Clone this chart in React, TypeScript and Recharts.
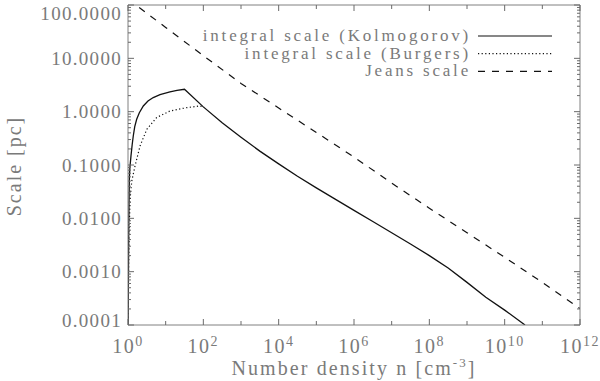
import { LineChart, Line, XAxis, YAxis } from "recharts";

// Kolmogorov integral scale (solid)
const kolmN = [
  1.009, 1.028, 1.052, 1.084, 1.122, 1.2, 1.29, 1.38, 1.51, 1.7, 2.0, 2.55, 3.39, 4.68, 7.08, 13, 20, 31.6,
  100, 316, 1000, 3160, 1e4, 3.16e4, 1e5, 3.16e5, 1e6, 3.16e6, 1e7, 3.16e7, 1e8, 3.16e8, 1e9, 3.16e9, 1e10, 3.47e10,
];
const kolmL = [
  0.0001, 0.001, 0.01, 0.054, 0.089, 0.148, 0.24, 0.35, 0.525, 0.72, 0.955, 1.28, 1.58, 1.84, 2.09, 2.34, 2.51, 2.63,
  1.23, 0.617, 0.331, 0.182, 0.105, 0.0617, 0.0372, 0.0229, 0.0141, 0.0087, 0.00537, 0.00331, 0.002, 0.00117, 0.00063,
  0.00033, 0.00019, 0.0001,
];

// Burgers integral scale (dotted), joins the solid curve near n = 100
const burgN = [1.007, 1.035, 1.072, 1.148, 1.259, 1.535, 2.09, 3.16, 5.75, 13.0, 36.3, 81.3, 104.7];
const burgL = [0.0001, 0.001, 0.0063, 0.025, 0.05, 0.096, 0.228, 0.468, 0.776, 1.03, 1.19, 1.28, 1.2];

// Jeans scale (dashed)
const jeansN = [1, 10, 100, 1e3, 1e4, 1e5, 1e6, 1e7, 1e8, 1e9, 1e10, 1e11, 1e12];
const jeansL = [129, 38, 11.2, 3.39, 1.17, 0.407, 0.141, 0.0457, 0.0155, 0.00537, 0.00186, 0.00063, 0.000204];

const xTicks = [1, 10, 100, 1e3, 1e4, 1e5, 1e6, 1e7, 1e8, 1e9, 1e10, 1e11, 1e12];
const yDecades = [0.0001, 0.001, 0.01, 0.1, 1, 10, 100];
const yMinorSteps = [2, 3, 4, 5, 6, 7, 8, 9];

const legendLabels = ["integral scale (Kolmogorov)", "integral scale (Burgers)", "Jeans scale"];
const legendDash = ["", "1.2 2.4", "7 7"];

const toRows = (ns: number[], ls: number[]) => ns.map((n, i) => ({ n, l: ls[i] }));
const kolmData = toRows(kolmN, kolmL);
const burgData = toRows(burgN, burgL);
const jeansData = toRows(jeansN, jeansL);

const yTicks = [
  ...yDecades,
  ...yDecades.slice(0, -1).flatMap((d) => yMinorSteps.map((m) => d * m)),
].sort((a, b) => a - b);

const TEXT = "#7a7a7a";
const AXIS = "#808080";
const TICK = "#6a6a6a";
const FONT = "'Liberation Serif', serif";

const isDecade = (v: number) => Math.abs(Math.log10(v) - Math.round(Math.log10(v))) < 1e-6;

function LeftTick({ x, y, payload }: any) {
  const major = isDecade(payload.value);
  const ty = Math.min(Math.max(y, 13), 320);
  return (
    <g>
      <line x1={x} x2={x + (major ? 6 : 3)} y1={y} y2={y} stroke={TICK} strokeWidth={1} />
      {major && (
        <text x={x - 6} y={ty} dy="0.35em" textAnchor="end" fill={TEXT} fontFamily={FONT} fontSize={19} letterSpacing={1.3}>
          {payload.value.toFixed(4)}
        </text>
      )}
    </g>
  );
}

function RightTick({ x, y, payload }: any) {
  const major = isDecade(payload.value);
  return <line x1={x} x2={x - (major ? 6 : 3)} y1={y} y2={y} stroke={TICK} strokeWidth={1} />;
}

function BottomTick({ x, y, payload }: any) {
  const e = Math.round(Math.log10(payload.value));
  const major = e % 2 === 0;
  return (
    <g>
      <line x1={x} x2={x} y1={y} y2={y - (major ? 6 : 4)} stroke={TICK} strokeWidth={1} />
      {major && (
        <text x={x} y={y + 28} textAnchor="middle" fill={TEXT} fontFamily={FONT} fontSize={20} letterSpacing={1.5}>
          10
          <tspan dy={-7} fontSize={14}>
            {e}
          </tspan>
        </text>
      )}
    </g>
  );
}

function TopTick({ x, y, payload }: any) {
  const e = Math.round(Math.log10(payload.value));
  return <line x1={x} x2={x} y1={y} y2={y + (e % 2 === 0 ? 6 : 4)} stroke={TICK} strokeWidth={1} />;
}

export default function App() {
  return (
    <div style={{ position: "absolute", left: 0, top: 0, width: 600, height: 381, background: "#fff" }}>
      <LineChart width={600} height={381} margin={{ top: 4, right: 19, bottom: 0, left: 0 }}>
        <XAxis
          dataKey="n"
          type="number"
          scale="log"
          domain={[1, 1e12]}
          allowDataOverflow
          ticks={xTicks}
          interval={0}
          height={56}
          tickSize={0}
          tickMargin={0}
          tickLine={false}
          axisLine={{ stroke: AXIS }}
          tick={<BottomTick />}
          label={{
            content: ({ viewBox }: any) => (
              <text x={viewBox.x + viewBox.width / 2} y={375} textAnchor="middle" fill={TEXT} fontFamily={FONT} fontSize={20} letterSpacing={2.1}>
                Number density n [cm
                <tspan dy={-8} fontSize={13}>
                  -3
                </tspan>
                <tspan dy={8}>]</tspan>
              </text>
            ),
          }}
        />
        <XAxis
          xAxisId="top"
          orientation="top"
          dataKey="n"
          type="number"
          scale="log"
          domain={[1, 1e12]}
          allowDataOverflow
          ticks={xTicks}
          interval={0}
          height={1}
          tickSize={0}
          tickMargin={0}
          tickLine={false}
          axisLine={{ stroke: AXIS }}
          tick={<TopTick />}
        />
        <YAxis
          type="number"
          scale="log"
          domain={[0.0001, 100]}
          allowDataOverflow
          ticks={yTicks}
          interval={0}
          width={128}
          tickSize={0}
          tickMargin={0}
          tickLine={false}
          axisLine={{ stroke: AXIS }}
          tick={<LeftTick />}
          label={{
            content: () => (
              <text x={21} y={166} transform="rotate(-90 21 166)" textAnchor="middle" fill={TEXT} fontFamily={FONT} fontSize={20} letterSpacing={2}>
                Scale [pc]
              </text>
            ),
          }}
        />
        <YAxis
          yAxisId="right"
          orientation="right"
          type="number"
          scale="log"
          domain={[0.0001, 100]}
          allowDataOverflow
          ticks={yTicks}
          interval={0}
          width={1}
          tickSize={0}
          tickMargin={0}
          tickLine={false}
          axisLine={{ stroke: AXIS }}
          tick={<RightTick />}
        />
        <Line data={jeansData} dataKey="l" stroke="#111" strokeWidth={1.2} strokeDasharray="7 7" dot={false} isAnimationActive={false} />
        <Line data={burgData} dataKey="l" stroke="#111" strokeWidth={1.2} strokeDasharray="1.2 2.4" dot={false} isAnimationActive={false} />
        <Line data={kolmData} dataKey="l" stroke="#111" strokeWidth={1.3} dot={false} isAnimationActive={false} />
      </LineChart>
      <svg width={600} height={381} style={{ position: "absolute", left: 0, top: 0, pointerEvents: "none" }}>
        {legendLabels.map((label, i) => (
          <g key={label}>
            <text x={471} y={41 + i * 17.7} textAnchor="end" fill={TEXT} fontFamily={FONT} fontSize={17} letterSpacing={2.8}>
              {label}
            </text>
            <line x1={478} x2={552} y1={36 + i * 17.7} y2={36 + i * 17.7} stroke="#111" strokeWidth={1.2} strokeDasharray={legendDash[i] || undefined} />
          </g>
        ))}
      </svg>
    </div>
  );
}
